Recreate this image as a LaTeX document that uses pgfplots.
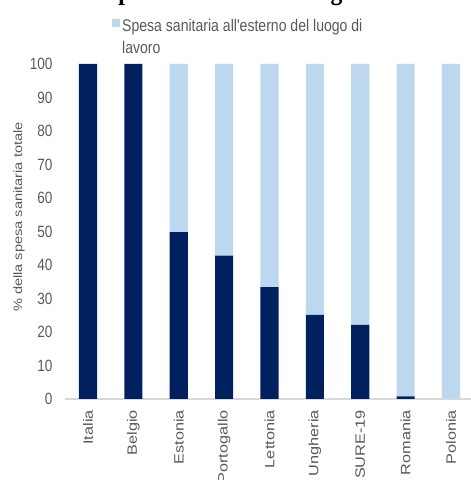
\documentclass[border=0pt]{standalone}
\usepackage{fontspec}
\setmainfont{Liberation Sans}
\newfontfamily\hfont[FakeStretch=0.83]{Liberation Sans}
\newfontfamily\vfont[FakeStretch=1.2]{Liberation Sans}
\newfontfamily\tfont[FakeStretch=0.83]{Liberation Serif}
\usepackage{pgfplots}
\usepackage{pgfplotstable}
\pgfplotsset{compat=1.18}
\definecolor{navy}{HTML}{002060}
\definecolor{lightb}{HTML}{BDD7EE}
\definecolor{axisgray}{HTML}{D9D9D9}
\definecolor{labelgray}{HTML}{595959}
\pgfplotstableread{
x dentro fuori
0 100 0
1 100 0
2 49.8 50.2
3 42.8 57.2
4 33.4 66.6
5 25.1 74.9
6 22.1 77.9
7 0.8 99.2
8 0 100
}\datatable
\begin{document}
\begin{tikzpicture}
\begin{axis}[
  at={(65.3bp,81bp)}, anchor=south west,
  width=408.4bp, height=335bp, scale only axis,
  xmin=-0.5, xmax=8.5, ymin=0, ymax=100,
  ybar stacked, bar width=18.2bp,
  xtick={0,...,8},
  xticklabels={Italia,Belgio,Estonia,Portogallo,Lettonia,Ungheria,SURE-19,Romania,Polonia},
  ytick={0,10,...,100},
  separate axis lines,
  axis x line*=bottom, axis y line*=left,
  x axis line style={draw=axisgray, line width=1.5bp, -},
  y axis line style={draw=none},
  major tick length=0pt,
  /pgf/number format/assume math mode=true,
  yticklabel style={font=\hfont\fontsize{16.4}{16.4}\selectfont, text=labelgray, anchor=east, inner sep=0pt, xshift=-12.6bp},
  xticklabel style={font=\vfont\fontsize{13.6}{13.6}\selectfont, text=labelgray, yshift=-11bp, rotate=90, anchor=east, inner sep=0pt},
  ylabel={\% della spesa sanitaria totale},
  ylabel style={font=\vfont\fontsize{12.2}{14}\selectfont, text=labelgray, at={(axis description cs:-0.1134,0.543)}, anchor=center},
  legend style={at={(axis description cs:0.1143,1.140)}, anchor=north west, draw=none, fill=none, inner sep=0pt,
    font=\hfont\fontsize{17}{22}\selectfont, text=labelgray, cells={align=left}},
  legend cell align=left,
]
\addplot[fill=navy, draw=none, forget plot] table[x=x, y=dentro] {\datatable};
\addplot[fill=lightb, draw=none, legend image code/.code={\path[fill=none, draw=none] (0bp,-19bp) rectangle (8bp,19bp); \fill[lightb] (0bp,10.5bp) rectangle (8bp,18.5bp);}] table[x=x, y=fuori] {\datatable};
\addlegendentry{Spesa sanitaria all'esterno del luogo di\\lavoro}
\end{axis}
\node[anchor=base west, inner sep=0pt, font=\tfont\bfseries\fontsize{28.6}{30}\selectfont] at (105bp,480bp) {Spesa sanitaria sul luogo di lavoro};
\pgfresetboundingbox
\path[use as bounding box] (0,0) rectangle (471bp,480bp);
\end{tikzpicture}
\end{document}
